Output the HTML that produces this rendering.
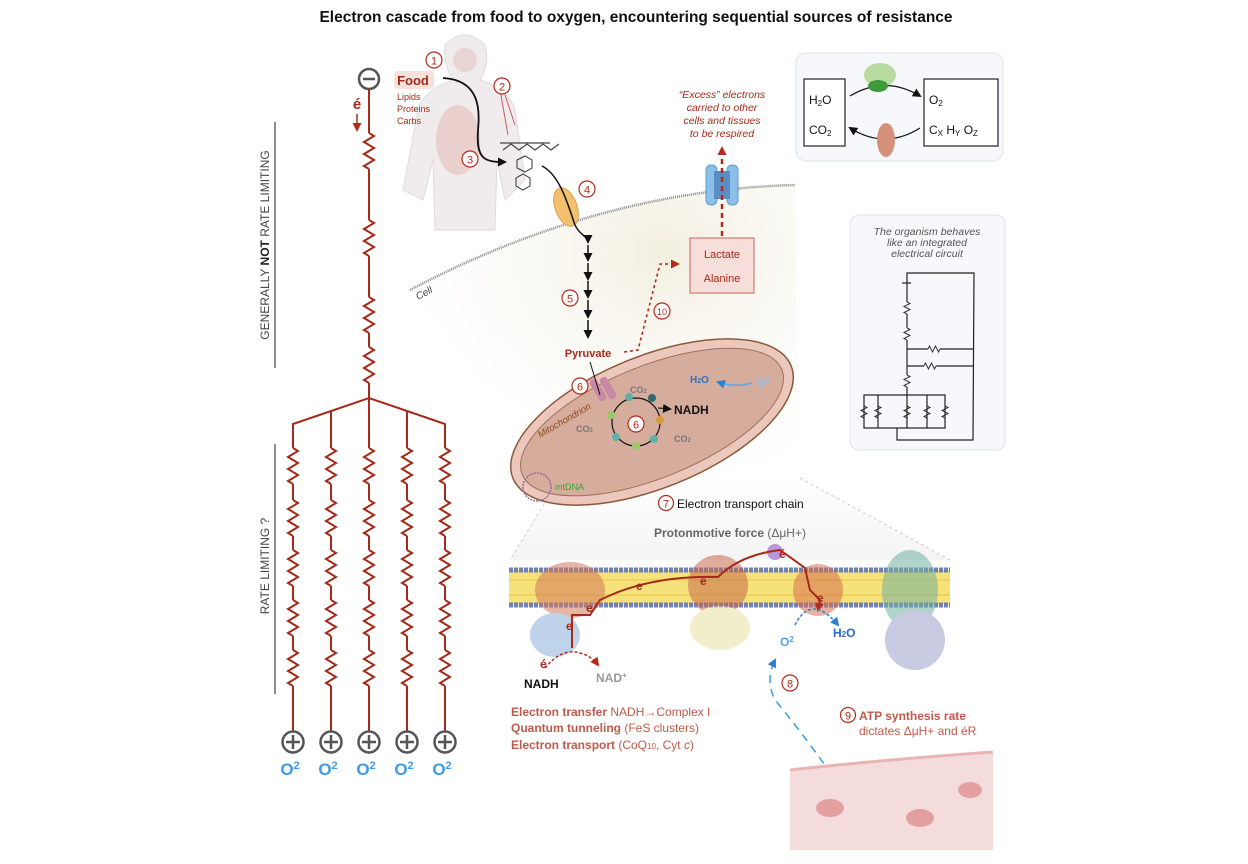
<!DOCTYPE html>
<html><head><meta charset="utf-8"><style>
html,body{margin:0;padding:0;background:#fff;}
svg{display:block;font-family:"Liberation Sans",Arial,sans-serif;}
</style></head><body>
<svg width="1248" height="864" viewBox="0 0 1248 864" xmlns="http://www.w3.org/2000/svg">
<defs>
<path id="res" d="M0,0 l5,3 l-10,6 l10,6 l-10,6 l10,6 l-10,6 l5,3" fill="none" stroke="#a52a1a" stroke-width="2"/>
<path id="rs" d="M0,0 l3,1.5 l-6,3 l6,3 l-6,3 l3,1.5" fill="none" stroke="#333" stroke-width="1"/>
<marker id="ab" markerUnits="userSpaceOnUse" markerWidth="9" markerHeight="9" refX="7" refY="4.5" orient="auto"><path d="M0,0 L9,4.5 L0,9 z" fill="#111"/></marker>
<marker id="ar" markerUnits="userSpaceOnUse" markerWidth="9" markerHeight="9" refX="7" refY="4.5" orient="auto"><path d="M0,0 L9,4.5 L0,9 z" fill="#b22a1a"/></marker>
<marker id="abl" markerUnits="userSpaceOnUse" markerWidth="9" markerHeight="9" refX="7" refY="4.5" orient="auto"><path d="M0,0 L9,4.5 L0,9 z" fill="#2a7fd4"/></marker>
<radialGradient id="cellg" cx="0.65" cy="0.2" r="0.8"><stop offset="0" stop-color="#f2eedf"/><stop offset="1" stop-color="#fff" stop-opacity="0"/></radialGradient>
<linearGradient id="zoomg" x1="0" y1="0" x2="0" y2="1"><stop offset="0" stop-color="#fff"/><stop offset="1" stop-color="#f1f1f1"/></linearGradient>
</defs>

<text x="636" y="22" text-anchor="middle" font-size="15.5" font-weight="bold" fill="#111">Electron cascade from food to oxygen, encountering sequential sources of resistance</text>

<!-- LEFT CIRCUIT -->
<circle cx="369" cy="79" r="10" fill="#fff" stroke="#555" stroke-width="2.5"/>
<line x1="363" y1="79" x2="375" y2="79" stroke="#555" stroke-width="2.5"/>
<text x="357" y="109" text-anchor="middle" font-size="15" font-weight="bold" fill="#a52a1a">é</text>
<line x1="357" y1="114" x2="357" y2="130" stroke="#a52a1a" stroke-width="1.5" marker-end="url(#ar)"/>
<g stroke="#a52a1a" stroke-width="2" fill="none">
<line x1="369" y1="89" x2="369" y2="133"/>
<line x1="369" y1="169" x2="369" y2="220"/>
<line x1="369" y1="256" x2="369" y2="297"/>
<line x1="369" y1="333" x2="369" y2="347"/>
<line x1="369" y1="383" x2="369" y2="398"/>
<polyline points="293,448 293,424 369,398 445,424 445,448"/>
<line x1="331" y1="411" x2="331" y2="448"/>
<line x1="369" y1="398" x2="369" y2="448"/>
<line x1="407" y1="411" x2="407" y2="448"/>
</g>
<use href="#res" x="369" y="133"/><use href="#res" x="369" y="220"/><use href="#res" x="369" y="297"/><use href="#res" x="369" y="347"/>

<g id="col">
<g stroke="#a52a1a" stroke-width="2">
<line x1="293" y1="484" x2="293" y2="500"/><line x1="293" y1="536" x2="293" y2="550"/><line x1="293" y1="586" x2="293" y2="600"/><line x1="293" y1="636" x2="293" y2="650"/><line x1="293" y1="686" x2="293" y2="731"/>
</g>
<use href="#res" x="293" y="448"/><use href="#res" x="293" y="500"/><use href="#res" x="293" y="550"/><use href="#res" x="293" y="600"/><use href="#res" x="293" y="650"/>
<circle cx="293" cy="742" r="10.5" fill="#fff" stroke="#555" stroke-width="2.5"/>
<line x1="286" y1="742" x2="300" y2="742" stroke="#555" stroke-width="2.5"/><line x1="293" y1="735" x2="293" y2="749" stroke="#555" stroke-width="2.5"/>
<text x="290" y="775" text-anchor="middle" font-size="17" font-weight="bold" fill="#3d9be9">O<tspan font-size="11" dy="-6">2</tspan></text>
</g>
<use href="#col" x="38"/><use href="#col" x="76"/><use href="#col" x="114"/><use href="#col" x="152"/>

<line x1="275" y1="122" x2="275" y2="368" stroke="#444" stroke-width="1.2"/>
<text transform="translate(269,245) rotate(-90)" text-anchor="middle" font-size="12" fill="#444">GENERALLY <tspan font-weight="bold" fill="#222">NOT</tspan> RATE LIMITING</text>
<line x1="275" y1="444" x2="275" y2="694" stroke="#444" stroke-width="1.2"/>
<text transform="translate(269,566) rotate(-90)" text-anchor="middle" font-size="12" fill="#444">RATE LIMITING ?</text>

<!-- body -->
<path d="M445,45 q20,-20 40,0 q5,20 -5,35 q30,10 35,30 l10,70 l-20,20 l-8,-40 l-2,70 l-60,0 l-2,-70 l-10,40 l-20,-10 l15,-80 q5,-20 35,-30 q-10,-15 -8,-35z" fill="#f0ebec" stroke="#e2dadb"/>
<ellipse cx="458" cy="140" rx="22" ry="35" fill="#e6c4c0" opacity="0.7"/>
<circle cx="465" cy="60" r="12" fill="#ead5d5"/>
<path d="M500,90 l8,45 M505,95 l10,30" stroke="#c86060" stroke-width="1"/>
<circle cx="434" cy="60" r="8" fill="#fff" stroke="#b22a1a" stroke-width="1.2"/><text x="434" y="64.5" text-anchor="middle" font-size="11" fill="#b22a1a">1</text>
<rect x="394" y="71" width="40" height="18" rx="4" fill="#f4d9d4" opacity="0.8"/>
<text x="413" y="85" text-anchor="middle" font-size="13" font-weight="bold" fill="#a52a1a">Food</text>
<text x="397" y="100" font-size="9" fill="#a52a1a">Lipids</text>
<text x="397" y="112" font-size="9" fill="#a52a1a">Proteins</text>
<text x="397" y="124" font-size="9" fill="#a52a1a">Carbs</text>
<circle cx="502" cy="86" r="8" fill="#fff" stroke="#b22a1a" stroke-width="1.2"/><text x="502" y="90.5" text-anchor="middle" font-size="11" fill="#b22a1a">2</text>
<circle cx="470" cy="159" r="8" fill="#fff" stroke="#b22a1a" stroke-width="1.2"/><text x="470" y="163.5" text-anchor="middle" font-size="11" fill="#b22a1a">3</text>
<path d="M443,78 C480,80 480,110 478,130 C476,160 485,162 505,162" fill="none" stroke="#111" stroke-width="1.8" marker-end="url(#ab)"/>
<path d="M500,143 l50,0 M503,150 l8,-6 l8,6 l8,-6 l8,6 l8,-6 l8,6 l8,-6" stroke="#444" stroke-width="1.2" fill="none"/>
<g stroke="#333" stroke-width="1" fill="none"><polygon points="517,160 525,156 532,160 532,168 525,172 517,168"/><polygon points="516,178 523,174 530,178 530,186 523,190 516,186"/></g>

<!-- cell -->
<path d="M410,290 Q600,190 795,185 L800,520 Q600,460 480,380 Z" fill="url(#cellg)"/>
<path d="M410,290 Q600,190 795,185" fill="none" stroke="#888" stroke-width="2.5" stroke-dasharray="1 1"/>
<text x="418" y="300" font-size="10" font-style="italic" fill="#444" transform="rotate(-28 418 300)">Cell</text>
<ellipse cx="566" cy="207" rx="11" ry="20" fill="#f3c06e" stroke="#d9a050" transform="rotate(-20 566 207)"/>
<circle cx="587" cy="189" r="8" fill="#fff" stroke="#b22a1a" stroke-width="1.2"/><text x="587" y="193.5" text-anchor="middle" font-size="11" fill="#b22a1a">4</text>
<path d="M542,166 C560,175 568,205 575,225 C580,236 588,236 588,242" fill="none" stroke="#111" stroke-width="1.5" marker-end="url(#ab)"/>
<g stroke="#111" stroke-width="1.5">
<line x1="588" y1="245" x2="588" y2="260" marker-end="url(#ab)"/>
<line x1="588" y1="263" x2="588" y2="279" marker-end="url(#ab)"/>
<line x1="588" y1="281" x2="588" y2="297" marker-end="url(#ab)"/>
<line x1="588" y1="300" x2="588" y2="317" marker-end="url(#ab)"/>
<line x1="588" y1="320" x2="588" y2="337" marker-end="url(#ab)"/>
</g>
<circle cx="570" cy="298" r="8" fill="#fff" stroke="#b22a1a" stroke-width="1.2"/><text x="570" y="302.5" text-anchor="middle" font-size="11" fill="#b22a1a">5</text>
<text x="588" y="357" text-anchor="middle" font-size="11" font-weight="bold" fill="#a52a1a">Pyruvate</text>
<path d="M624,352 L638,350 L660,264 L678,264" fill="none" stroke="#b22a1a" stroke-width="1.6" stroke-dasharray="3 3" marker-end="url(#ar)"/>
<circle cx="662" cy="311" r="8" fill="#fff" stroke="#b22a1a" stroke-width="1.2"/><text x="662" y="315" text-anchor="middle" font-size="9" fill="#b22a1a">10</text>
<rect x="690" y="238" width="64" height="55" fill="#f6dedb" stroke="#d07a70" stroke-width="1.2"/>
<text x="722" y="258" text-anchor="middle" font-size="11" fill="#a52a1a">Lactate</text>
<text x="722" y="282" text-anchor="middle" font-size="11" fill="#a52a1a">Alanine</text>
<rect x="706" y="165" width="11" height="40" rx="5" fill="#8cc0e8" stroke="#5d9bd0"/><rect x="727" y="165" width="11" height="40" rx="5" fill="#8cc0e8" stroke="#5d9bd0"/>
<rect x="714" y="171" width="16" height="28" fill="#5a8fc6"/>
<line x1="722" y1="236" x2="722" y2="148" stroke="#b22a1a" stroke-width="2.5" stroke-dasharray="5 4" marker-end="url(#ar)"/>
<text x="722" y="98" text-anchor="middle" font-size="10.5" font-style="italic" fill="#a52a1a">“Excess” electrons</text>
<text x="722" y="111" text-anchor="middle" font-size="10.5" font-style="italic" fill="#a52a1a">carried to other</text>
<text x="722" y="124" text-anchor="middle" font-size="10.5" font-style="italic" fill="#a52a1a">cells and tissues</text>
<text x="722" y="137" text-anchor="middle" font-size="10.5" font-style="italic" fill="#a52a1a">to be respired</text>

<!-- zoom cone -->
<path d="M560,478 L510,560 L950,560 L800,478 Z" fill="url(#zoomg)" opacity="0.8"/>
<path d="M560,478 L510,560 M800,478 L950,560" stroke="#ccc" stroke-dasharray="3 3"/>

<!-- mitochondrion -->
<g transform="rotate(-22 652 422)">
<ellipse cx="652" cy="422" rx="150" ry="66" fill="#ecc8bc" stroke="#8b5a3a" stroke-width="1.5"/>
<ellipse cx="652" cy="422" rx="140" ry="56" fill="#d6ac9c" stroke="#a0705a" stroke-width="1"/>
</g>
<rect x="594" y="378" width="8" height="24" rx="3" fill="#c889a6" transform="rotate(-30 598 390)"/><rect x="604" y="376" width="8" height="24" rx="3" fill="#c889a6" transform="rotate(-30 608 388)"/>
<path d="M590,362 L600,395" stroke="#111" stroke-width="1"/>
<circle cx="580" cy="386" r="8" fill="#fff" stroke="#b22a1a" stroke-width="1.2"/><text x="580" y="390.5" text-anchor="middle" font-size="11" fill="#b22a1a">6</text>
<text x="540" y="438" font-size="9.5" font-style="italic" fill="#8b4a1a" transform="rotate(-30 540 438)">Mitochondrion</text>
<circle cx="636" cy="422" r="24" fill="none" stroke="#111" stroke-width="1.2"/>
<circle cx="636" cy="424" r="8" fill="#fff" stroke="#b22a1a" stroke-width="1.2"/><text x="636" y="428.5" text-anchor="middle" font-size="11" fill="#b22a1a">6</text>
<g fill="#5fb0a8"><circle cx="629" cy="397" r="4"/><circle cx="652" cy="398" r="4" fill="#2f6b70"/><circle cx="611" cy="415" r="4" fill="#9bc86b"/><circle cx="616" cy="437" r="4"/><circle cx="636" cy="446" r="4" fill="#9bc86b"/><circle cx="654" cy="439" r="4"/><circle cx="660" cy="420" r="4" fill="#d49a3c"/></g>
<path d="M658,408 L670,409" stroke="#222" stroke-width="1.2" marker-end="url(#ab)"/>
<text x="674" y="414" font-size="12" font-weight="bold" fill="#111">NADH</text>
<text x="630" y="393" font-size="9" font-weight="bold" fill="#777">CO<tspan font-size="6">2</tspan></text>
<text x="576" y="432" font-size="9" font-weight="bold" fill="#777">CO<tspan font-size="6">2</tspan></text>
<text x="674" y="442" font-size="9" font-weight="bold" fill="#777">CO<tspan font-size="6">2</tspan></text>
<text x="690" y="383" font-size="10" font-weight="bold" fill="#2f72c0">H<tspan font-size="7">2</tspan>O</text>
<path d="M752,383 Q735,388 718,382" fill="none" stroke="#5aa9ee" stroke-width="1.5" marker-end="url(#abl)"/>
<text x="757" y="386" font-size="11" font-weight="bold" fill="#8cc6f6">O<tspan font-size="7" dy="-4">2</tspan></text>
<circle cx="537" cy="487" r="14" fill="none" stroke="#9a6a9a" stroke-width="1.5" stroke-dasharray="2 1"/>
<text x="555" y="490" font-size="9" fill="#3aa23a">mtDNA</text>

<!-- ETC -->
<circle cx="666" cy="503" r="7.5" fill="#fff" stroke="#b22a1a" stroke-width="1.2"/><text x="666" y="507.5" text-anchor="middle" font-size="11" fill="#b22a1a">7</text>
<text x="677" y="508" font-size="12" fill="#111">Electron transport chain</text>
<text x="654" y="537" font-size="12" font-weight="bold" fill="#666">Protonmotive force <tspan font-weight="normal">(ΔμH+)</tspan></text>
<rect x="509" y="570" width="441" height="35" fill="#f6e27a"/>
<g stroke="#e6c640" stroke-width="1"><line x1="509" y1="580" x2="950" y2="580"/><line x1="509" y1="595" x2="950" y2="595"/></g>
<line x1="509" y1="570" x2="950" y2="570" stroke="#7080b8" stroke-width="5" stroke-dasharray="4 1"/>
<line x1="509" y1="605" x2="950" y2="605" stroke="#7080b8" stroke-width="5" stroke-dasharray="4 1"/>
<g opacity="0.55">
<ellipse cx="570" cy="590" rx="35" ry="28" fill="#d47a5a"/><ellipse cx="555" cy="635" rx="25" ry="22" fill="#8ab0d8"/>
<ellipse cx="718" cy="585" rx="30" ry="30" fill="#c86a4a"/><ellipse cx="720" cy="628" rx="30" ry="22" fill="#e8e0a0"/>
<ellipse cx="818" cy="590" rx="25" ry="26" fill="#d67050"/>
<ellipse cx="910" cy="590" rx="28" ry="40" fill="#70b0a0"/><ellipse cx="915" cy="640" rx="30" ry="30" fill="#9aa0c8"/>
<circle cx="775" cy="552" r="8" fill="#8a4acb"/>
</g>
<path d="M572,648 L572,615 L590,615 L600,600 Q650,575 718,577 Q740,555 780,550 L805,568 L810,590 L820,600 L818,610" fill="none" stroke="#a52a1a" stroke-width="2" marker-end="url(#ar)"/>
<g font-size="12" font-weight="bold" fill="#a52a1a"><text x="566" y="630">e</text><text x="586" y="612">e</text><text x="636" y="590">e</text><text x="700" y="585">e</text><text x="779" y="558">é</text><text x="817" y="602">e</text></g>
<path d="M545,668 Q560,650 575,652 Q590,654 598,665" fill="none" stroke="#b22a1a" stroke-width="1.5" stroke-dasharray="3 2" marker-end="url(#ar)"/>
<text x="540" y="668" font-size="12" font-weight="bold" fill="#a52a1a">é</text>
<text x="524" y="688" font-size="12" font-weight="bold" fill="#111">NADH</text>
<text x="596" y="682" font-size="12" font-weight="bold" fill="#999">NAD<tspan font-size="8" dy="-4">+</tspan></text>
<path d="M795,625 Q805,605 820,610 Q830,615 838,625" fill="none" stroke="#2a7fd4" stroke-width="1.5" stroke-dasharray="3 2" marker-end="url(#abl)"/>
<text x="780" y="646" font-size="12" font-weight="bold" fill="#4aa2f0">O<tspan font-size="8" dy="-4">2</tspan></text>
<text x="833" y="637" font-size="12" font-weight="bold" fill="#2a6cc0">H<tspan font-size="8">2</tspan>O</text>
<path d="M832,775 Q800,730 775,700 Q765,680 775,660" fill="none" stroke="#3d9be9" stroke-width="1.5" stroke-dasharray="8 6" marker-end="url(#abl)"/>
<circle cx="790" cy="683" r="8" fill="#fff" stroke="#b22a1a" stroke-width="1.2"/><text x="790" y="687.5" text-anchor="middle" font-size="11" fill="#b22a1a">8</text>
<g font-size="12" fill="#c05a4a">
<text x="511" y="716"><tspan font-weight="bold">Electron transfer</tspan> NADH→Complex I</text>
<text x="511" y="732"><tspan font-weight="bold">Quantum tunneling</tspan> (FeS clusters)</text>
<text x="511" y="749"><tspan font-weight="bold">Electron transport</tspan> (CoQ<tspan font-size="8">10</tspan>, Cyt <tspan font-style="italic">c</tspan>)</text>
</g>
<circle cx="848" cy="715" r="7.5" fill="#fff" stroke="#b22a1a" stroke-width="1.2"/><text x="848" y="719.5" text-anchor="middle" font-size="11" fill="#b22a1a">9</text>
<text x="859" y="720" font-size="12" font-weight="bold" fill="#c05a4a">ATP synthesis rate</text>
<text x="859" y="735" font-size="12" fill="#c05a4a">dictates ΔμH+ and éR</text>

<!-- vessel -->
<path d="M790,770 Q880,760 993,752 L993,850 L790,850 Z" fill="#f5dcdc"/>
<path d="M790,770 Q880,760 993,752" fill="none" stroke="#e8b4b4" stroke-width="3"/>
<ellipse cx="830" cy="808" rx="14" ry="9" fill="#e4a0a0"/><ellipse cx="920" cy="818" rx="14" ry="9" fill="#e4a0a0"/><ellipse cx="970" cy="790" rx="12" ry="8" fill="#e4a0a0"/>

<!-- top right box -->
<rect x="796" y="53" width="207" height="108" rx="10" fill="#f7f8fb" stroke="#dde2ea"/>
<rect x="804" y="79" width="41" height="67" fill="#fff" stroke="#222" stroke-width="1.2"/>
<text x="809" y="104" font-size="12" fill="#111">H<tspan font-size="8" dy="2">2</tspan><tspan dy="-2">O</tspan></text>
<text x="809" y="134" font-size="12" fill="#111">CO<tspan font-size="8" dy="2">2</tspan></text>
<rect x="924" y="79" width="74" height="67" fill="#fff" stroke="#222" stroke-width="1.2"/>
<text x="929" y="104" font-size="12" fill="#111">O<tspan font-size="8" dy="2">2</tspan></text>
<text x="929" y="134" font-size="12" fill="#111">C<tspan font-size="8" dy="2">X</tspan><tspan dy="-2"> H</tspan><tspan font-size="8" dy="2">Y</tspan><tspan dy="-2"> O</tspan><tspan font-size="8" dy="2">Z</tspan></text>
<path d="M850,96 Q885,75 920,96" fill="none" stroke="#111" stroke-width="1.2" marker-end="url(#ab)"/>
<path d="M920,128 Q885,150 850,128" fill="none" stroke="#111" stroke-width="1.2" marker-end="url(#ab)"/>
<ellipse cx="880" cy="75" rx="16" ry="12" fill="#a8d48a" opacity="0.8"/><ellipse cx="878" cy="86" rx="10" ry="6" fill="#3f9a3a"/>
<ellipse cx="886" cy="140" rx="9" ry="17" fill="#d4907a"/>

<!-- circuit box -->
<rect x="850" y="215" width="155" height="235" rx="9" fill="#f7f8fb" stroke="#dde2ea"/>
<g font-size="10.5" font-style="italic" fill="#555" text-anchor="middle">
<text x="927" y="235">The organism behaves</text><text x="927" y="246">like an integrated</text><text x="927" y="257">electrical circuit</text></g>
<g fill="none" stroke="#222" stroke-width="1.2">
<polyline points="907,283 907,273 974,273 973,440 897,440 897,428"/>
<line x1="902" y1="283" x2="911" y2="283"/>
<line x1="907" y1="283" x2="907" y2="302"/><line x1="907" y1="314" x2="907" y2="328"/><line x1="907" y1="340" x2="907" y2="375"/><line x1="907" y1="387" x2="907" y2="395"/>
<line x1="907" y1="349" x2="928" y2="349"/><line x1="940" y1="349" x2="974" y2="349"/>
<line x1="907" y1="366" x2="924" y2="366"/><line x1="936" y1="366" x2="973" y2="366"/>
<rect x="864" y="395" width="81" height="33"/>
<line x1="878" y1="395" x2="878" y2="428"/><line x1="907" y1="395" x2="907" y2="428"/><line x1="927" y1="395" x2="927" y2="428"/>
</g>
<use href="#rs" x="907" y="302"/><use href="#rs" x="907" y="328"/><use href="#rs" x="907" y="375"/>
<use href="#rs" x="928" y="349" transform="rotate(-90 928 349)"/><use href="#rs" x="924" y="366" transform="rotate(-90 924 366)"/>
<use href="#rs" x="864" y="406"/><use href="#rs" x="878" y="406"/><use href="#rs" x="907" y="406"/><use href="#rs" x="927" y="406"/><use href="#rs" x="945" y="406"/>
</svg>
</body></html>
